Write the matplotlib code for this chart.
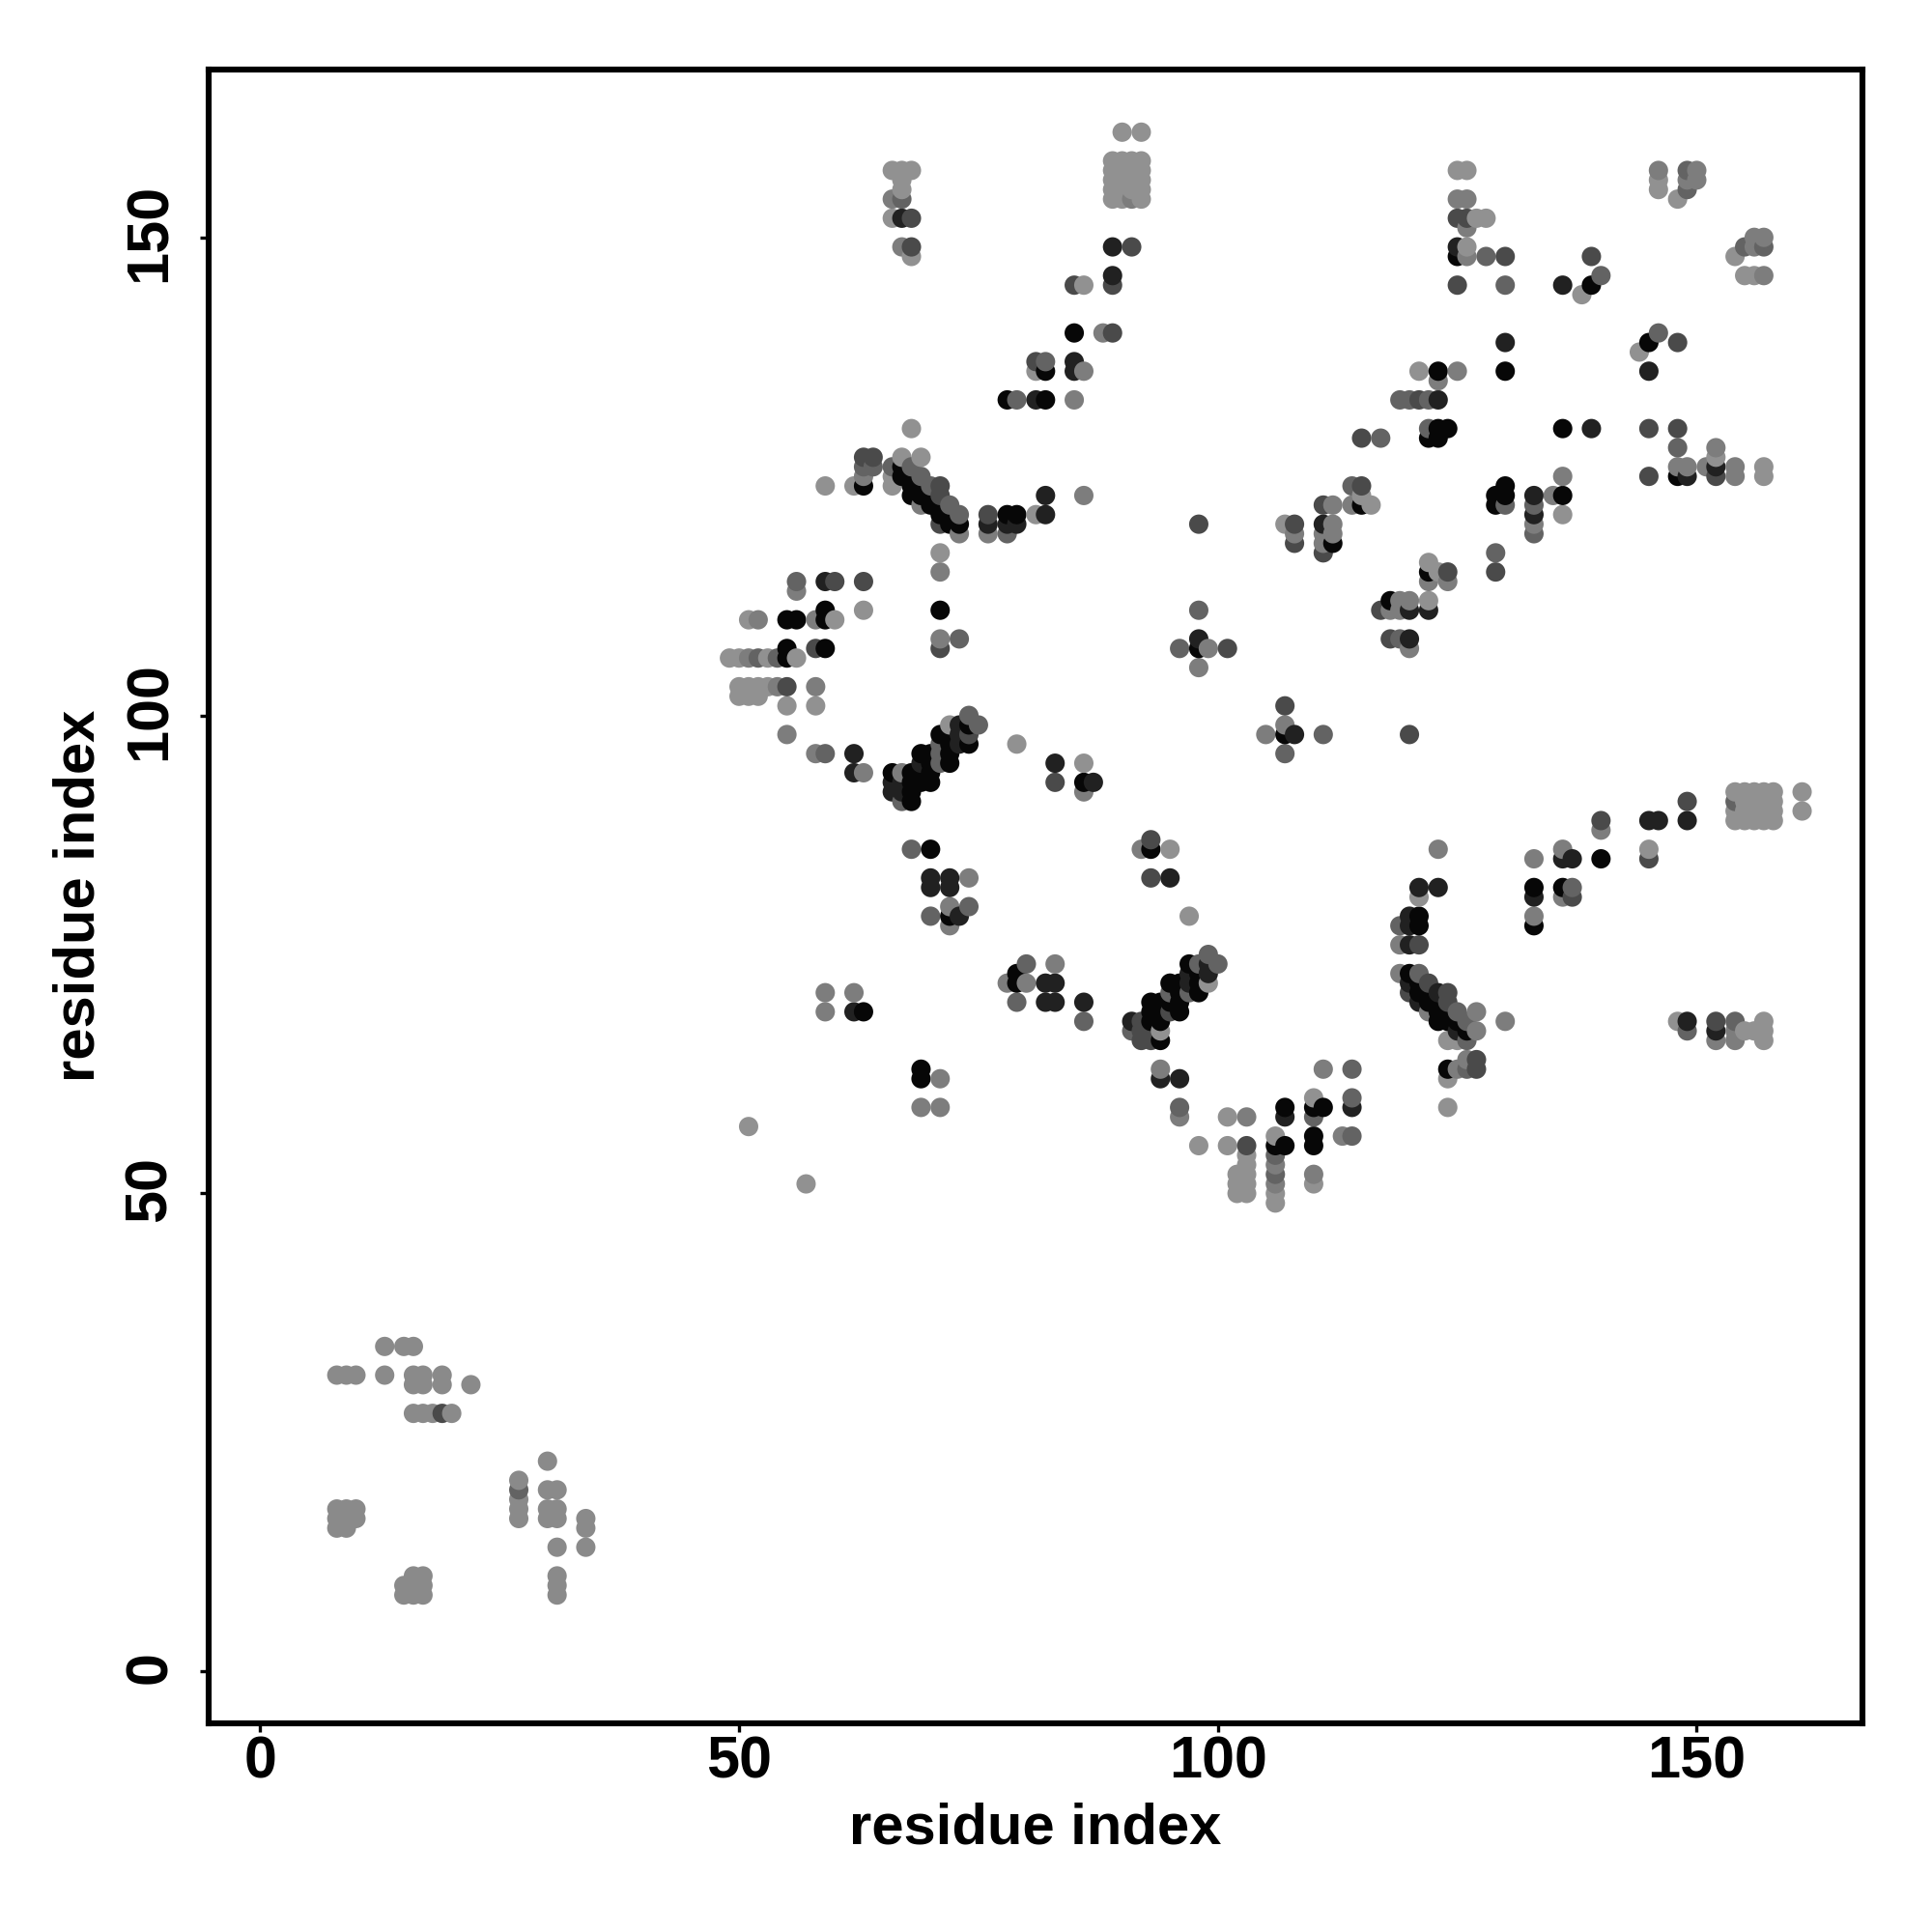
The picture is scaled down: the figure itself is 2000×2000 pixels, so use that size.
import numpy as np
import matplotlib
matplotlib.use('Agg')
import matplotlib.pyplot as plt
from matplotlib.transforms import ScaledTranslation

plt.rcParams['font.family'] = ['Liberation Sans', 'DejaVu Sans']
plt.rcParams['font.weight'] = 'bold'

# contacts (residue, residue), one list per grey level
pale = [(90,161),(92,161),
    (89,158),(90,158),(91,158),(92,158),(89,157),(90,157),(91,157),(92,157),
    (89,156),(90,156),(91,156),(92,156),(89,155),(90,155),(91,155),(92,155),
    (89,154),(90,154),(92,154),
    (66,157),(67,157),(68,157),(67,156),(67,155),(66,152),(68,148),(86,145),(81,136),
    (68,130),(62,124),(59,124),(67,127),(69,127),(66,125),(66,124),(81,121),(71,117),
    (125,157),(126,157),(127,152),(128,152),(126,149),(138,144),(121,136),(144,138),
    (136,121),(115,123),(116,122),(107,120),(122,116),(123,115),(122,112),
    (146,156),(146,155),(148,154),(154,148),(155,146),(156,146),(152,127),(157,126),(157,125),
    (63,111),(51,110),(60,110),(49,106),(50,106),(53,106),(56,106),
    (50,103),(51,103),(52,103),(53,103),(50,102),(51,102),(52,102),(55,101),(58,101),
    (72,99),(79,97),(86,95),(95,86),(99,72),(94,67),(101,58),(98,55),(101,55),
    (103,54),(103,53),(103,52),(103,51),(103,50),(102,52),(102,51),(102,50),
    (106,56),(106,50),(106,49),(110,60),(110,51),(124,59),(124,62),(124,66),(125,66),
    (97,79),(121,81),(145,86),(161,92),(161,90),(148,68),(155,67),(156,67),(157,68),(157,67),(157,66),
    (154,92),(155,92),(156,92),(157,92),(158,92),(155,91),(156,91),(157,91),(158,91),
    (154,90),(155,90),(156,90),(157,90),(158,90),(154,89),(155,89),(156,89),(157,89),(158,89),
    (51,57),(57,51)]

far = [(13,34),(15,34),(16,34),(8,31),(9,31),(10,31),(13,31),(16,31),(17,31),(19,31),
    (16,30),(17,30),(19,30),(22,30),(16,27),(17,27),(18,27),(20,27),
    (30,22),(27,20),(30,19),(31,19),(27,18),(27,17),(27,16),(30,17),(31,17),(30,16),(31,16),
    (34,16),(34,15),(31,13),(34,13),(31,10),(31,9),(31,8),
    (8,17),(9,17),(10,17),(8,16),(9,16),(10,16),(8,15),(9,15),
    (16,10),(17,10),(15,9),(16,9),(17,9),(15,8),(16,8),(17,8)]

mid = [(66,154),(67,149),(88,140),(86,136),(85,133),(63,125),(69,122),(73,119),(76,119),(86,123),(71,115),
    (91,154),(125,154),(126,154),(126,151),(126,148),(123,135),(125,136),(136,125),(135,123),(133,120),
    (114,122),(112,122),(112,120),(111,119),(112,119),(111,118),(108,119),(122,114),(124,114),
    (120,112),(119,112),(118,111),(119,111),(120,107),
    (146,157),(150,157),(149,156),(150,156),(156,150),(157,150),(156,149),(157,146),
    (152,128),(148,126),(149,126),(151,126),(154,126),(154,125),
    (99,107),(98,105),(107,99),(105,98),(56,113),(52,110),(58,110),(71,108),(51,106),
    (54,103),(58,103),(55,98),(58,96),(63,94),(67,94),(83,74),(74,83),(72,80),(72,78),(86,92),(92,86),
    (78,72),(80,72),(59,71),(62,71),(59,69),(94,63),(96,58),(103,58),(106,53),(106,51),
    (111,63),(113,56),(110,52),(125,63),(126,64),(130,68),(127,69),(127,67),(119,73),(122,69),
    (119,76),(123,86),(133,85),(136,86),(140,88),(136,81),(133,79),(152,66),(154,67),(154,66),
    (71,62),(69,59),(71,59)]

steel = [(67,154),(82,137),(79,133),(63,126),(64,126),(66,126),(68,126),(69,125),(70,124),(72,122),(73,121),(78,119),
    (128,148),(140,146),(130,145),(119,133),(120,133),(122,133),(117,129),(133,122),(133,119),(130,122),(114,124),(129,117),
    (119,108),(122,130),(146,140),(149,157),(149,155),(155,149),(157,149),(148,128),(98,111),(96,107),(111,98),(107,96),
    (56,114),(73,108),(52,106),(54,106),(59,96),(67,91),(71,96),(71,97),(71,95),(75,99),(74,100),(68,86),(74,80),(70,79),
    (80,74),(79,70),(86,68),(99,75),(100,74),(98,74),(121,73),(95,71),(97,71),(91,67),(96,59),(106,54),(106,52),
    (110,58),(114,63),(114,60),(114,56),(126,63),(126,66),(125,69),(126,68),(119,78),(137,82),(149,67),(154,68),
    (154,91),(27,19)]

slate = [(68,152),(68,149),(89,145),(85,145),(81,137),(89,140),(91,149),(63,127),(64,127),(71,124),(71,123),(71,120),(76,121),
    (125,145),(130,148),(139,148),(145,130),(145,125),(115,129),(115,124),(111,122),(111,117),(108,120),(108,118),(98,120),
    (129,115),(124,115),(117,111),(118,108),(125,152),(126,152),(121,133),(148,139),(148,130),(152,125),
    (101,107),(107,101),(120,98),(60,114),(63,114),(71,107),(58,107),(55,103),(74,98),(83,93),(93,83),(93,87),
    (95,69),(92,68),(92,67),(93,67),(92,66),(93,66),(103,55),(127,63),(127,64),(122,72),(120,71),(124,71),(124,70),(121,76),
    (140,89),(145,85),(149,91),(137,81),(152,68),(19,27)]

dark = [(67,152),(89,149),(89,146),(85,137),(85,136),(81,133),(76,120),(78,120),(79,120),(82,121),(82,123),
    (125,149),(136,145),(130,139),(139,130),(145,136),(123,133),(133,123),(133,121),(111,120),(120,111),(122,111),(120,108),
    (149,125),(152,126),(98,108),(108,98),(59,114),(62,96),(62,94),(66,93),(67,93),(66,92),(67,92),(69,95),(73,97),(73,98),(73,99),
    (83,95),(87,93),(70,83),(72,83),(70,82),(72,82),(73,79),(95,83),(82,72),(83,72),(82,70),(83,70),(86,70),(62,69),
    (99,73),(99,74),(97,73),(97,72),(91,68),(94,62),(96,62),(107,58),(114,59),(120,72),(123,71),(121,70),(125,67),
    (120,76),(120,78),(120,79),(121,82),(123,82),(136,85),(137,85),(133,81),(145,89),(146,89),(149,89),(149,68),(152,67)]

black = [(85,140),(82,136),(78,133),(82,133),(63,124),(67,126),(67,125),(68,124),(68,123),(69,123),(70,123),(70,122),(71,122),
    (71,121),(72,121),(72,120),(73,120),(78,121),(79,121),(125,148),(139,145),(130,136),(123,136),(123,130),(124,130),(136,130),
    (122,129),(123,129),(145,139),(136,123),(130,124),(129,123),(130,123),(129,122),(115,122),(112,118),(122,115),(118,112),
    (148,125),(98,107),(107,98),(71,111),(59,111),(55,110),(56,110),(59,110),(55,107),(59,107),(55,106),
    (66,94),(68,94),(69,94),(70,94),(68,93),(69,93),(70,93),(68,92),(68,91),(70,95),(72,95),(69,96),(70,96),(72,96),(72,97),(74,97),
    (71,98),(72,98),(74,99),(86,93),(70,86),(72,79),(93,86),(79,73),(79,72),(63,69),
    (97,74),(98,73),(95,72),(96,72),(98,72),(96,71),(98,71),(93,70),(94,70),(95,70),(96,70),(93,69),(94,69),(96,69),(93,68),(94,68),(94,66),
    (106,55),(107,55),(107,59),(110,59),(111,59),(110,56),(110,55),(124,63),(120,73),(121,72),(121,71),(122,71),(122,70),(123,70),
    (123,69),(124,69),(123,68),(124,68),(125,68),(126,67),(121,79),(121,78),(140,85),(133,82),(136,82),(133,78),(69,63),(69,62)]

groups = [pale, far, mid, steel, slate, dark, black]
group_grey = [0.57, 0.54, 0.49, 0.39, 0.29, 0.13, 0.03]

xs = np.array([p[0] for g in groups for p in g])
ys = np.array([p[1] for g in groups for p in g])
grey = np.array([v for g, v in zip(groups, group_grey) for p in g])

# later residues are painted over earlier ones
order = np.lexsort((ys, xs))

fig = plt.figure(figsize=(10, 10), dpi=200)
ax = fig.add_axes([216/2000, 1-1784/2000, (1928-216)/2000, (1784-71.5)/2000])
ax.scatter(xs[order], ys[order], c=grey[order], cmap='gray', vmin=0, vmax=1, s=52, linewidths=0)

ax.set_xlim(-5.38, 167.3)
ax.set_ylim(-5.42, 167.6)
ax.set_xticks([0, 50, 100, 150])
ax.set_yticks([0, 50, 100, 150])
ax.tick_params(axis='both', length=3.2, width=1.2, labelsize=22)
ax.tick_params(axis='x', pad=1.2)
ax.tick_params(axis='y', pad=8)
shift = ScaledTranslation(0, 1.6/72, fig.dpi_scale_trans)
for lab in ax.get_yticklabels():
    lab.set_rotation(90)
    lab.set_va('center')
    lab.set_transform(lab.get_transform() + shift)
for s in ax.spines.values():
    s.set_linewidth(2.2)

ax.set_xlabel('residue index', fontsize=21.5, fontweight='bold', labelpad=4.5)
ax.set_ylabel('residue index', fontsize=21.5, fontweight='bold', labelpad=6.5)

fig.savefig('out.png', dpi=200)
